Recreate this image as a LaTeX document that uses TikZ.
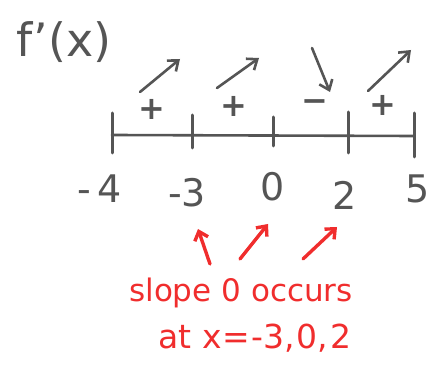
\documentclass[tikz,border=0pt]{standalone}
\usepackage{fontspec}
\setmainfont{DejaVu Sans}
\usetikzlibrary{arrows.meta}
\definecolor{pencil}{RGB}{85,85,85}
\definecolor{redpen}{RGB}{240,45,45}
\begin{document}
\begin{tikzpicture}[x=1pt,y=-1pt,
  ink/.style={draw=pencil,line width=2.6pt,line cap=round},
  tickmark/.style={draw=pencil,line width=3pt,line cap=round},
  numlab/.style={text=pencil,font=\fontsize{38}{40}\selectfont,inner sep=0pt},
  sign/.style={text=pencil,font=\fontsize{32}{34}\selectfont\bfseries,inner sep=0pt},
  trend/.style={ink,-{Straight Barb[length=9pt,width=14pt,line width=2.6pt]}},
  redarrow/.style={draw=redpen,line width=3.4pt,line cap=round,-{Straight Barb[length=8pt,width=14pt,line width=3.4pt]}},
  redtext/.style={text=redpen,font=\fontsize{31}{33}\selectfont,inner sep=0pt}]
\useasboundingbox (0,0) rectangle (442,366);
% title
\node[text=pencil,font=\fontsize{46}{48}\selectfont,inner sep=0pt] (title) at (64,42) {f\kern1pt\textquoteright(x)};
% number line
\coordinate (L) at (112,135);
\coordinate (R) at (414,136);
\draw[ink] (L) -- (R);
\draw[tickmark] (112,113) -- (112,153);
\draw[tickmark] (192,115) -- (192,148);
\draw[tickmark] (273,117) -- (273,146);
\draw[tickmark] (348,112) -- (348,153);
\draw[tickmark] (414,113) -- (414,157);
% labels
\node[numlab] (lm4) at (100,189) {-\,4};
\node[numlab] (lm3) at (187,193) {-3};
\node[numlab] (l0) at (273,187) {0};
\node[numlab] (l2) at (345,195) {2};
\node[numlab] (l5) at (418,189) {5};
% signs
\node[sign] (s1) at (152,109) {+};
\node[sign] (s2) at (234,106) {+};
\node[sign] (s3) at (315,106) {\textminus};
\node[sign] (s4) at (383,105) {+};
% trend arrows
\coordinate (t1a) at (140,92); \coordinate (t1b) at (180,59);
\coordinate (t2a) at (217,88); \coordinate (t2b) at (259,58);
\coordinate (t3a) at (312,48); \coordinate (t3b) at (330,92);
\coordinate (t4a) at (368,91); \coordinate (t4b) at (411,50);
\draw[trend] (t1a) -- (t1b);
\draw[trend] (t2a) -- (t2b);
\draw[trend] (t3a) -- (t3b);
\draw[trend] (t4a) -- (t4b);
% red annotation
\node[redtext] (note1) at (241,293) {slope 0 occurs};
\node[redtext,font=\fontsize{33}{35}\selectfont] (note2) at (255,338) {at x\kern1pt=\kern1pt-3,\kern2pt0,\kern2pt2};
\coordinate (r1a) at (210,264); \coordinate (r1b) at (198,229);
\coordinate (r2a) at (240,259); \coordinate (r2b) at (268,224);
\coordinate (r3a) at (303,259); \coordinate (r3b) at (337,227);
\draw[redarrow] (r1a) -- (r1b);
\draw[redarrow] (r2a) -- (r2b);
\draw[redarrow] (r3a) -- (r3b);
\end{tikzpicture}
\end{document}
